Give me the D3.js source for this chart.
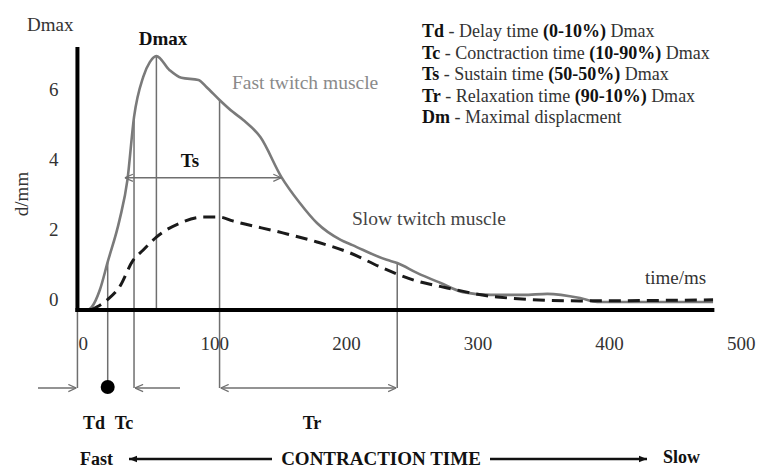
<!DOCTYPE html>
<html>
<head>
<meta charset="utf-8">
<script src="https://cdn.jsdelivr.net/npm/d3@7"></script>
<style>
  body { margin: 0; background: #fff; }
  text { font-family: "Liberation Serif", "Times New Roman", serif; }
</style>
</head>
<body>
<svg class="twitch"></svg>
<script>
var width = 761;
var height = 470;

// fast twitch muscle (solid grey line), time in ms, displacement in mm
var fastTime = [4, 7, 13, 19, 28, 34, 39, 46, 51, 56, 66, 75, 88, 94, 104, 114, 122, 135, 151, 165, 178, 196, 205, 231, 239, 254, 272, 289, 310, 335, 353, 378, 391, 479];
var fastDisp = [-0.3, -0.21, 0.27, 1.07, 2.27, 3.41, 5.2, 6.35, 6.77, 6.94, 6.54, 6.32, 6.26, 6.06, 5.69, 5.35, 5.12, 4.63, 3.49, 2.75, 2.18, 1.7, 1.55, 1.13, 1.04, 0.76, 0.47, 0.21, 0.13, 0.13, 0.16, 0.04, -0.07, -0.07];

// slow twitch muscle (dashed line)
var slowTime = [6, 19, 28, 38, 46, 56, 74, 91, 104, 114, 152, 178, 203, 226, 251, 277, 315, 378, 479];
var slowDisp = [-0.3, 0, 0.36, 1.1, 1.41, 1.78, 2.18, 2.35, 2.35, 2.24, 1.9, 1.64, 1.33, 0.93, 0.56, 0.33, 0.07, -0.04, -0.01];

var xTicks = [0, 100, 200, 300, 400, 500];
var yTicks = [0, 2, 4, 6];

// vertical guide lines (time, top displacement, goes down to arrow row?)
var guideTime = [-4, 19, 39, 56, 104, 239];
var guideTop = [-0.3, 1.07, 5.2, 6.94, 5.69, 1.04];
var guideDrop = [true, true, true, false, true, true];

// sustain time arrow at 50% Dmax
var tsStart = 32, tsEnd = 151, tsLevel = 3.47;

var legendKeys = ["Td", "Tc", "Ts", "Tr", "Dm"];
var legendNames = ["Delay time", "Conctraction time", "Sustain time", "Relaxation time", "Maximal displacment"];
var legendRanges = ["(0-10%)", "(10-90%)", "(50-50%)", "(90-10%)", ""];

var svg = d3.select(".twitch")
    .attr("width", width)
    .attr("height", height);

var x = d3.scaleLinear().domain([0, 500]).range([82.7, 740.7]);
var y = d3.scaleLinear().domain([-0.3, 7.2]).range([310, 47]);

var arrowRow = 388;
var grey = "#6f6f6f";

var defs = svg.append("defs");
defs.append("marker")
    .attr("id", "chev")
    .attr("viewBox", "0 0 10 10")
    .attr("refX", 10).attr("refY", 5)
    .attr("markerWidth", 9).attr("markerHeight", 9)
    .attr("markerUnits", "userSpaceOnUse")
    .attr("orient", "auto-start-reverse")
    .append("path")
    .attr("d", "M1,1 L10,5 L1,9")
    .attr("fill", "none")
    .attr("stroke", grey)
    .attr("stroke-width", 1.3);
defs.append("marker")
    .attr("id", "tri")
    .attr("viewBox", "0 0 10 10")
    .attr("refX", 10).attr("refY", 5)
    .attr("markerWidth", 9).attr("markerHeight", 8)
    .attr("markerUnits", "userSpaceOnUse")
    .attr("orient", "auto-start-reverse")
    .append("path")
    .attr("d", "M0,1 L10,5 L0,9 Z")
    .attr("fill", "#111");

// guide lines
guideTime.forEach(function (t, i) {
    svg.append("line")
        .attr("x1", x(t)).attr("x2", x(t))
        .attr("y1", y(guideTop[i]))
        .attr("y2", guideDrop[i] ? arrowRow : y(-0.3))
        .attr("stroke", grey)
        .attr("stroke-width", 1.5);
});

// curves
var line = d3.line()
    .x(function (d) { return x(d[0]); })
    .y(function (d) { return y(d[1]); })
    .curve(d3.curveMonotoneX);

svg.append("path")
    .datum(fastTime.map(function (t, i) { return [t, fastDisp[i]]; }))
    .attr("d", line)
    .attr("fill", "none")
    .attr("stroke", "#7a7a7a")
    .attr("stroke-width", 2.6);

svg.append("path")
    .datum(slowTime.map(function (t, i) { return [t, slowDisp[i]]; }))
    .attr("d", line)
    .attr("fill", "none")
    .attr("stroke", "#1a1a1a")
    .attr("stroke-width", 3)
    .attr("stroke-dasharray", "12,7");

// axes
svg.append("line")
    .attr("x1", x(-4)).attr("x2", x(-4))
    .attr("y1", y(7.2)).attr("y2", y(-0.3) + 2)
    .attr("stroke", "#000").attr("stroke-width", 4);
svg.append("line")
    .attr("x1", x(-4) - 2).attr("x2", x(480))
    .attr("y1", y(-0.3)).attr("y2", y(-0.3))
    .attr("stroke", "#000").attr("stroke-width", 4);

var yAxis = svg.append("g")
    .attr("transform", "translate(" + x(-4) + ",0)")
    .call(d3.axisLeft(y).tickValues(yTicks).tickSize(0).tickPadding(19));
var xAxis = svg.append("g")
    .attr("transform", "translate(0," + y(-0.3) + ")")
    .call(d3.axisBottom(x).tickValues(xTicks).tickSize(0).tickPadding(27));
[yAxis, xAxis].forEach(function (g) {
    g.select(".domain").remove();
    g.selectAll("text")
        .style("font-family", '"Liberation Serif", "Times New Roman", serif')
        .style("font-size", "19px")
        .attr("fill", "#333");
});

// Ts arrow
svg.append("line")
    .attr("x1", x(tsStart)).attr("x2", x(tsEnd))
    .attr("y1", y(tsLevel)).attr("y2", y(tsLevel))
    .attr("stroke", grey).attr("stroke-width", 1.5)
    .attr("marker-start", "url(#chev)")
    .attr("marker-end", "url(#chev)");

// arrows below the axis
svg.append("line")
    .attr("x1", 38).attr("x2", x(-4) - 1)
    .attr("y1", arrowRow).attr("y2", arrowRow)
    .attr("stroke", grey).attr("stroke-width", 1.5)
    .attr("marker-end", "url(#chev)");
svg.append("line")
    .attr("x1", 180).attr("x2", x(39) + 1)
    .attr("y1", arrowRow).attr("y2", arrowRow)
    .attr("stroke", grey).attr("stroke-width", 1.5)
    .attr("marker-end", "url(#chev)");
svg.append("line")
    .attr("x1", x(104) + 1).attr("x2", x(239) - 1)
    .attr("y1", arrowRow).attr("y2", arrowRow)
    .attr("stroke", grey).attr("stroke-width", 1.5)
    .attr("marker-start", "url(#chev)")
    .attr("marker-end", "url(#chev)");
svg.append("circle")
    .attr("cx", x(19)).attr("cy", arrowRow - 1)
    .attr("r", 7).attr("fill", "#000");

// text labels
function label(txt, px, py, opts) {
    opts = opts || {};
    return svg.append("text")
        .attr("x", px).attr("y", py)
        .attr("text-anchor", opts.anchor || "start")
        .attr("font-size", (opts.size || 19) + "px")
        .attr("font-weight", opts.bold ? "bold" : "normal")
        .attr("fill", opts.color || "#222")
        .text(txt);
}

label("Dmax", 27, 31, { color: "#333" });
label("Dmax", 163, 45, { anchor: "middle", bold: true, color: "#111" });
label("Ts", 190, 167, { anchor: "middle", bold: true, color: "#111" });
label("Fast twitch muscle", 232, 89, { color: "#8a8a8a", size: 19.5 });
label("Slow twitch muscle", 352, 225, { color: "#444", size: 19.5 });
label("time/ms", 645, 284, { color: "#333" });
svg.append("text")
    .attr("transform", "translate(28,194) rotate(-90)")
    .attr("text-anchor", "middle")
    .attr("font-size", "19px")
    .attr("fill", "#333")
    .text("d/mm");

label("Td", 94, 429, { anchor: "middle", bold: true, size: 18, color: "#111" });
label("Tc", 124, 429, { anchor: "middle", bold: true, size: 18, color: "#111" });
label("Tr", 312, 429, { anchor: "middle", bold: true, size: 18, color: "#111" });

label("Fast", 80, 465, { bold: true, size: 18, color: "#111" });
label("CONTRACTION TIME", 381, 465, { anchor: "middle", bold: true, size: 19, color: "#111" });
label("Slow", 663, 463, { bold: true, size: 18, color: "#111" });
svg.append("line")
    .attr("x1", 272).attr("x2", 129)
    .attr("y1", 459).attr("y2", 459)
    .attr("stroke", "#111").attr("stroke-width", 2.5)
    .attr("marker-end", "url(#tri)");
svg.append("line")
    .attr("x1", 490).attr("x2", 647)
    .attr("y1", 459).attr("y2", 459)
    .attr("stroke", "#111").attr("stroke-width", 2.5)
    .attr("marker-end", "url(#tri)");

// legend
var legend = svg.selectAll(".legend")
    .data(legendKeys)
    .enter()
    .append("text")
    .attr("class", "legend")
    .attr("x", 422)
    .attr("y", function (d, i) { return 37 + i * 21.5; })
    .attr("font-size", "18px")
    .attr("fill", "#333");

legend.each(function (d, i) {
    var t = d3.select(this);
    t.append("tspan").attr("font-weight", "bold").attr("fill", "#111").text(d);
    t.append("tspan").text(" - " + legendNames[i] + (legendRanges[i] ? " " : ""));
    if (legendRanges[i]) {
        t.append("tspan").attr("font-weight", "bold").attr("fill", "#111").text(legendRanges[i]);
        t.append("tspan").text(" Dmax");
    }
});
</script>
</body>
</html>
